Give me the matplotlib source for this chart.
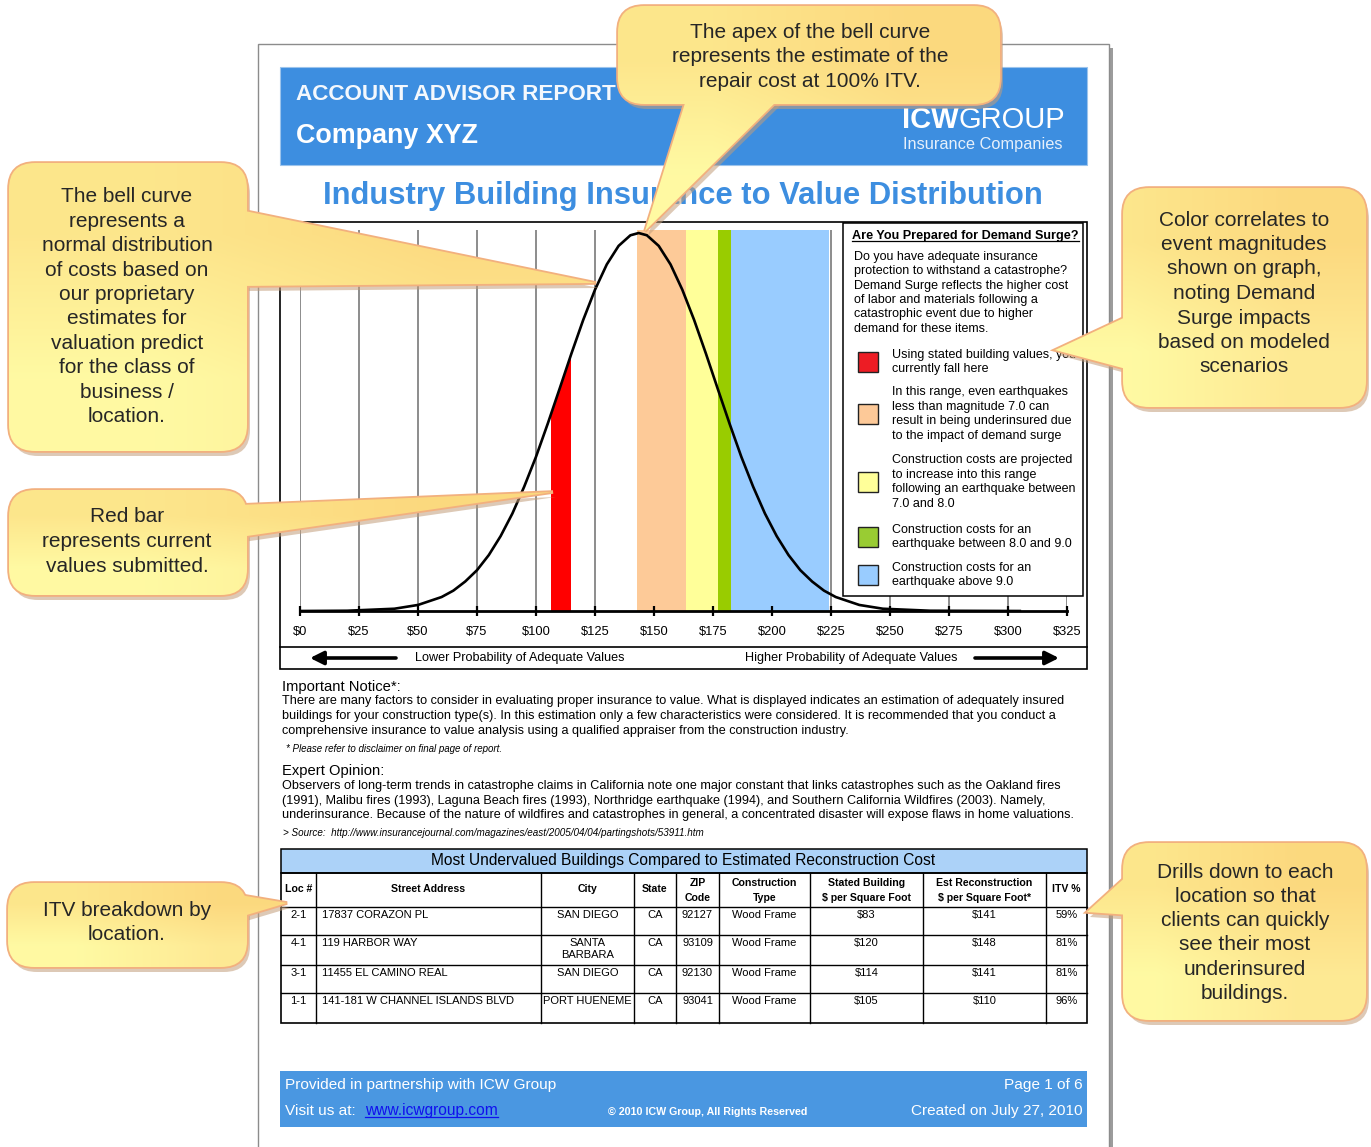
import numpy as np
import matplotlib.pyplot as plt
from matplotlib.patches import Rectangle, FancyBboxPatch, Polygon

plt.rcParams['font.family'] = ['Liberation Sans', 'DejaVu Sans']

W, H = 1371, 1147

# bell curve: cost per sq ft -> height relative to the apex
curve_x = [0, 20, 40, 50, 60, 65, 70, 75, 80, 85, 90, 95, 100, 105, 110, 115, 120,
           125, 130, 135, 140, 143.5, 147, 152, 157, 162, 167, 172, 177, 182, 187,
           192, 197, 202, 207, 212, 217, 222, 227, 237, 247, 267, 305]
curve_y = [0.0, 0.0007, 0.006, 0.016, 0.037, 0.054, 0.078, 0.108, 0.148, 0.198,
           0.258, 0.329, 0.408, 0.496, 0.588, 0.681, 0.770, 0.850, 0.917, 0.966,
           0.994, 1.0, 0.994, 0.966, 0.917, 0.850, 0.770, 0.681, 0.588, 0.496,
           0.408, 0.329, 0.258, 0.198, 0.148, 0.108, 0.078, 0.054, 0.037, 0.016,
           0.006, 0.0007, 0.0]

tick_vals = [0, 25, 50, 75, 100, 125, 150, 175, 200, 225, 250, 275, 300, 325]
tick_labels = ['$0', '$25', '$50', '$75', '$100', '$125', '$150', '$175', '$200',
               '$225', '$250', '$275', '$300', '$325']

red_band = (106.5, 114.5)
band_edges = [143, 163.5, 177, 182.5, 224]
band_colors = ['#fdca98', '#ffff99', '#99cc00', '#99ccff']

legend_colors = ['#ed1c24', '#fdc998', '#ffff99', '#99cc33', '#99ccff']
legend_texts = [
    "Using stated building values, you\ncurrently fall here",
    "In this range, even earthquakes\nless than magnitude 7.0 can\nresult in being underinsured due\nto the impact of demand surge",
    "Construction costs are projected\nto increase into this range\nfollowing an earthquake between\n7.0 and 8.0",
    "Construction costs for an\nearthquake between 8.0 and 9.0",
    "Construction costs for an\nearthquake above 9.0",
]
legend_intro = ("Do you have adequate insurance\nprotection to withstand a catastrophe?\n"
                "Demand Surge reflects the higher cost\nof labor and materials following a\n"
                "catastrophic event due to higher\ndemand for these items.")

notice = ("There are many factors to consider in evaluating proper insurance to value. What is displayed indicates an estimation of adequately insured\n"
          "buildings for your construction type(s). In this estimation only a few characteristics were considered. It is recommended that you conduct a\n"
          "comprehensive insurance to value analysis using a qualified appraiser from the construction industry.")
opinion = ("Observers of long-term trends in catastrophe claims in California note one major constant that links catastrophes such as the Oakland fires\n"
           "(1991), Malibu fires (1993), Laguna Beach fires (1993), Northridge earthquake (1994), and Southern California Wildfires (2003). Namely,\n"
           "underinsurance. Because of the nature of wildfires and catastrophes in general, a concentrated disaster will expose flaws in home valuations.")

col_heads = ['Loc #', 'Street Address', 'City', 'State', 'ZIP\nCode', 'Construction\nType',
             'Stated Building\n$ per Square Foot', 'Est Reconstruction\n$ per Square Foot*', 'ITV %']
loc_ids = ['2-1', '4-1', '3-1', '1-1']
streets = ['17837 CORAZON PL', '119 HARBOR WAY', '11455 EL CAMINO REAL', '141-181 W CHANNEL ISLANDS BLVD']
cities = ['SAN DIEGO', 'SANTA\nBARBARA', 'SAN DIEGO', 'PORT HUENEME']
states = ['CA', 'CA', 'CA', 'CA']
zips = ['92127', '93109', '92130', '93041']
ctypes = ['Wood Frame', 'Wood Frame', 'Wood Frame', 'Wood Frame']
stated = [83, 120, 114, 105]
est_cost = [141, 148, 141, 110]
itv = [59, 81, 81, 96]

callouts = [
    ((618, 6, 1000, 104), [(686, 100), (778, 100), (645, 231)],
     "The apex of the bell curve\nrepresents the estimate of the\nrepair cost at 100% ITV.", 810, 32, 24.6),
    ((9, 163, 247, 451), [(240, 210), (596, 283), (240, 286)],
     "The bell curve\nrepresents a\nnormal distribution\nof costs based on\nour proprietary\nestimates for\n"
     "valuation predict\nfor the class of\nbusiness /\nlocation.", 127, 197, 24.4),
    ((9, 490, 247, 595), [(240, 505), (553, 492), (240, 537)],
     "Red bar\nrepresents current\nvalues submitted.", 127, 517, 24.6),
    ((1123, 188, 1366, 407), [(1130, 315), (1055, 350), (1130, 370)],
     "Color correlates to\nevent magnitudes\nshown on graph,\nnoting Demand\nSurge impacts\nbased on modeled\nscenarios",
     1244, 220, 24.5),
    ((8, 883, 247, 967), [(240, 895), (287, 903), (240, 917)],
     "ITV breakdown by\nlocation.", 127, 910, 25),
    ((1123, 843, 1366, 1020), [(1130, 873), (1087, 912), (1130, 915)],
     "Drills down to each\nlocation so that\nclients can quickly\nsee their most\nunderinsured\nbuildings.",
     1245, 872, 24.3),
]


def put_lines(a, x, y0, step, text, **kw):
    for i, line in enumerate(text.split('\n')):
        a.text(x, y0 + i * step, line, **kw)


fig = plt.figure(figsize=(W / 100, H / 100), dpi=100)
ax = fig.add_axes([0, 0, 1, 1], zorder=1)
ax.set_xlim(0, W)
ax.set_ylim(H, 0)
ax.axis('off')

# page with shadow
ax.add_patch(Rectangle((262, 48), 851, 1120, fc='#9c9c9c', ec='none'))
ax.add_patch(Rectangle((258, 44), 851, 1120, fc='white', ec='#8c8c8c', lw=1))

# header
ax.add_patch(Rectangle((280, 67), 807, 98, fc='#3d8ee0', ec='#9cc4ec', lw=0.8))
ax.text(296, 94, 'ACCOUNT ADVISOR REPORT', color='#f4f8fd', fontsize=16.2, weight='bold', va='center')
ax.text(296, 136, 'Company XYZ', color='white', fontsize=19.4, weight='bold', va='center')
ax.text(902, 120, 'ICW', color='white', fontsize=21, weight='bold', va='center')
ax.text(958, 120, 'GROUP', color='white', fontsize=21, va='center')
ax.text(903, 145, 'Insurance Companies', color='#e6f0fb', fontsize=11.8, va='center')

ax.text(683, 196, 'Industry Building Insurance to Value Distribution', color='#3d8ee0',
        fontsize=22.3, weight='bold', ha='center', va='center')

# chart frame and arrows row
ax.add_patch(Rectangle((280, 222), 807, 447, fc='none', ec='black', lw=1.2))
ax.plot([280, 1087], [647, 647], color='black', lw=1.2)
arr = dict(arrowstyle='-|>', lw=2.6, color='black', mutation_scale=20, shrinkA=0, shrinkB=0)
ax.annotate('', xy=(310, 658), xytext=(396, 658), arrowprops=arr)
ax.annotate('', xy=(1059, 658), xytext=(975, 658), arrowprops=arr)
ax.text(415, 658, 'Lower Probability of Adequate Values', fontsize=9.1, va='center')
ax.text(745, 658, 'Higher Probability of Adequate Values', fontsize=9.1, va='center')

# notices
ax.text(282, 687, 'Important Notice*:', fontsize=10.6, va='center')
put_lines(ax, 282, 701, 15, notice, fontsize=9.05, va='center')
ax.text(286, 749, '* Please refer to disclaimer on final page of report.', fontsize=7, style='italic', va='center')
ax.text(282, 771, 'Expert Opinion:', fontsize=10.6, va='center')
put_lines(ax, 282, 786, 14.6, opinion, fontsize=9.05, va='center')
ax.text(283, 833, '> Source:  http://www.insurancejournal.com/magazines/east/2005/04/04/partingshots/53911.htm',
        fontsize=7.1, style='italic', va='center')

# table
col_x = [281, 316, 541, 634, 676, 719, 810, 923, 1046, 1087]
row_y = [907, 935, 965, 993, 1023]
ax.add_patch(Rectangle((281, 849), 806, 24, fc='#acd2f8', ec='black', lw=1.1))
ax.text(683, 861, 'Most Undervalued Buildings Compared to Estimated Reconstruction Cost',
        fontsize=11.2, ha='center', va='center')
ax.add_patch(Rectangle((281, 873), 806, 150, fc='none', ec='black', lw=1.2))
for yy in row_y[:-1]:
    ax.plot([281, 1087], [yy, yy], color='black', lw=1)
for xx in col_x[1:-1]:
    ax.plot([xx, xx], [873, 1023], color='black', lw=1)
for i, head in enumerate(col_heads):
    xc = (col_x[i] + col_x[i + 1]) / 2
    parts = head.split('\n')
    y0 = 889 if len(parts) == 1 else 883
    put_lines(ax, xc, y0, 15, head, fontsize=7.6, weight='bold', ha='center', va='center')
rows = zip(loc_ids, streets, cities, states, zips, ctypes, stated, est_cost, itv)
for r, (lid, st, city, sta, zp, ct, sv, ev, iv) in enumerate(rows):
    y = row_y[r] + 8
    cells = [lid, None, city, sta, zp, ct, f'${sv}', f'${ev}', f'{iv}%']
    for i, val in enumerate(cells):
        if val is None:
            continue
        xc = (col_x[i] + col_x[i + 1]) / 2
        put_lines(ax, xc, y, 12, val, fontsize=8, ha='center', va='center')
    ax.text(322, y, st, fontsize=8, va='center')

# footer
ax.add_patch(Rectangle((280, 1071), 807, 56, fc='#4a97e1', ec='none'))
ax.text(285, 1085, 'Provided in partnership with ICW Group', color='white', fontsize=11.1, va='center')
ax.text(285, 1111, 'Visit us at:', color='white', fontsize=11.1, va='center')
link = ax.text(365, 1115, 'www.icwgroup.com', color='#1010ee', fontsize=11.2, va='baseline')
ax.text(708, 1112, '\u00a9 2010 ICW Group, All Rights Reserved', color='white', fontsize=7.7,
        weight='bold', ha='center', va='center')
ax.text(1083, 1085, 'Page 1 of 6', color='white', fontsize=11.1, ha='right', va='center')
ax.text(1083, 1111, 'Created on July 27, 2010', color='white', fontsize=11.1, ha='right', va='center')

# bell curve chart
cx = fig.add_axes([300 / W, (H - 611) / H, 767 / W, (611 - 230) / H], zorder=2)
cx.patch.set_alpha(0)
cx.set_xlim(0, 325)
cx.set_ylim(0, 1.008)
for s in ['left', 'top', 'right']:
    cx.spines[s].set_visible(False)
cx.spines['bottom'].set_linewidth(2.0)
cx.set_xticks(tick_vals, tick_labels)
cx.tick_params(axis='x', direction='inout', length=7, width=1.6, pad=7.5, labelsize=9.3)
cx.set_yticks([])
cx.vlines(tick_vals, 0, 1.01, colors='#6e6e6e', lw=1.1, zorder=0)
for lo, hi, c in zip(band_edges[:-1], band_edges[1:], band_colors):
    cx.axvspan(lo, hi, color=c, lw=0, zorder=1)
red = cx.fill_between(curve_x, 0, curve_y, color='#ff0000', lw=0, zorder=2)
red.set_clip_path(Rectangle((red_band[0], 0), red_band[1] - red_band[0], 1.2, transform=cx.transData))
cx.plot(curve_x, curve_y, color='black', lw=1.9, zorder=3, solid_joinstyle='round')

# overlay: legend box and callouts
ov = fig.add_axes([0, 0, 1, 1], zorder=3)
ov.patch.set_alpha(0)
ov.axis('off')
ov.add_patch(Rectangle((843, 223), 240, 373, fc='white', ec='black', lw=1.1, zorder=1))
ttl = ov.text(852, 239, 'Are You Prepared for Demand Surge?', fontsize=9.1, weight='bold',
              va='baseline', zorder=2)
put_lines(ov, 854, 257, 14.3, legend_intro, fontsize=9, va='center', zorder=2)
sq_centers = [362, 414, 482, 537, 575]
for c, txt, yc in zip(legend_colors, legend_texts, sq_centers):
    ov.add_patch(Rectangle((858, yc - 10), 20, 20, fc=c, ec='#222222', lw=1, zorder=2))
    n = txt.count('\n') + 1
    put_lines(ov, 892, yc - (n - 1) * 14.6 / 2, 14.6, txt, fontsize=9, va='center', zorder=2)

grad = np.array([[[0.992, 0.902, 0.549], [0.988, 0.851, 0.498]],
                 [[1.0, 0.98, 0.639], [0.996, 0.914, 0.58]]])
for k, (box, tail, txt, tx, ty, step) in enumerate(callouts):
    z = 5 + k * 0.1
    x0, y0, x1, y1 = box
    shift = [(px + 3, py + 5) for px, py in tail]
    ov.add_patch(FancyBboxPatch((x0 + 3, y0 + 5), x1 - x0, y1 - y0, boxstyle='round,pad=0,rounding_size=26',
                                fc='#c29d7a', ec='none', alpha=0.55, zorder=z))
    ov.add_patch(Polygon(shift, closed=True, fc='#c29d7a', ec='none', alpha=0.55, zorder=z))
    ov.add_patch(FancyBboxPatch((x0, y0), x1 - x0, y1 - y0, boxstyle='round,pad=0,rounding_size=26',
                                fc='none', ec='#f2b07e', lw=2.6, zorder=z + 0.01))
    ov.add_patch(Polygon(tail, closed=True, fc='none', ec='#f2b07e', lw=2.6, zorder=z + 0.01))
    xs = [x0, x1] + [p[0] for p in tail]
    ys = [y0, y1] + [p[1] for p in tail]
    ext = (min(xs), max(xs), max(ys), min(ys))
    clip_box = FancyBboxPatch((x0, y0), x1 - x0, y1 - y0, boxstyle='round,pad=0,rounding_size=26',
                              transform=ov.transData)
    clip_tail = Polygon(tail, closed=True, transform=ov.transData)
    for clip in (clip_box, clip_tail):
        im = ov.imshow(grad, extent=ext, origin='upper', interpolation='bilinear', aspect='auto', zorder=z + 0.02)
        im.set_clip_path(clip)
    put_lines(ov, tx, ty, step, txt, fontsize=15, color='#262626', ha='center', va='center', zorder=z + 0.03)

ov.set_xlim(0, W)
ov.set_ylim(H, 0)

# underlines
rend = fig.canvas.get_renderer()
for t, a, yb in [(ttl, ov, 241), (link, ax, 1117)]:
    bb = t.get_window_extent(renderer=rend)
    xa = a.transData.inverted().transform([[bb.x0, 0], [bb.x1, 0]])[:, 0]
    a.plot(xa, [yb, yb], color=t.get_color(), lw=0.9, zorder=2)

fig.savefig('out.png', dpi=100)
